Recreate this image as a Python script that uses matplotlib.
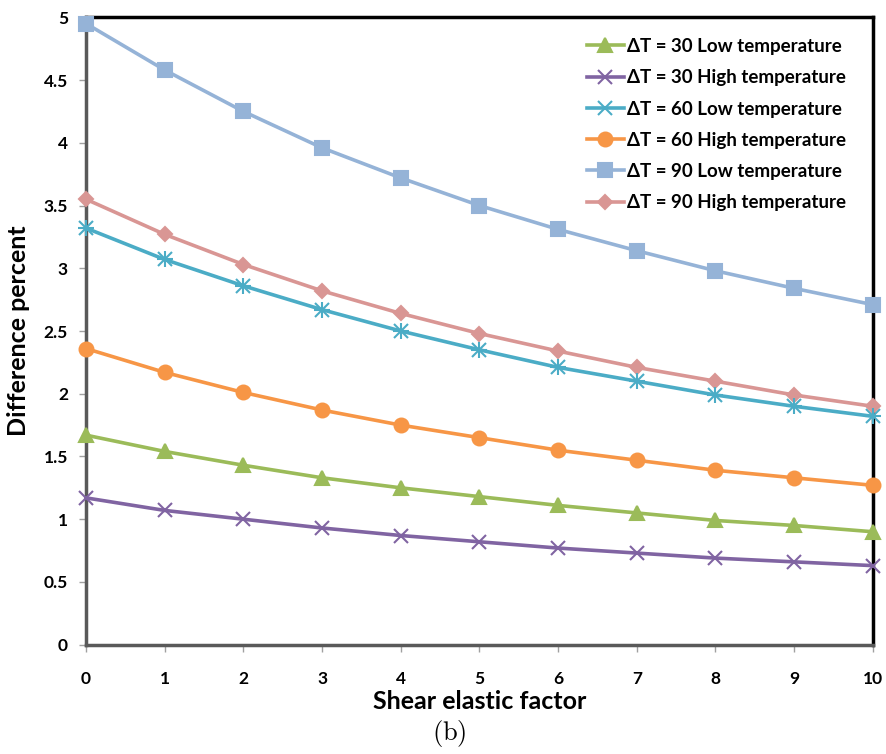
import numpy as np
import matplotlib.pyplot as plt

plt.rcParams["font.family"] = ["Lato", "DejaVu Sans"]
plt.rcParams["font.weight"] = "bold"
plt.rcParams["mathtext.fontset"] = "cm"

# data
shear = [0, 1, 2, 3, 4, 5, 6, 7, 8, 9, 10]
dt30_low = [1.67, 1.54, 1.43, 1.33, 1.25, 1.18, 1.11, 1.05, 0.99, 0.95, 0.90]
dt30_high = [1.17, 1.07, 1.00, 0.93, 0.87, 0.82, 0.77, 0.73, 0.69, 0.66, 0.63]
dt60_low = [3.32, 3.07, 2.86, 2.67, 2.50, 2.35, 2.21, 2.10, 1.99, 1.90, 1.82]
dt60_high = [2.36, 2.17, 2.01, 1.87, 1.75, 1.65, 1.55, 1.47, 1.39, 1.33, 1.27]
dt90_low = [4.95, 4.58, 4.25, 3.96, 3.72, 3.50, 3.31, 3.14, 2.98, 2.84, 2.71]
dt90_high = [3.55, 3.27, 3.03, 2.82, 2.64, 2.48, 2.34, 2.21, 2.10, 1.99, 1.90]

labels = [
    "ΔT = 30 Low temperature",
    "ΔT = 30 High temperature",
    "ΔT = 60 Low temperature",
    "ΔT = 60 High temperature",
    "ΔT = 90 Low temperature",
    "ΔT = 90 High temperature",
]
series = [dt30_low, dt30_high, dt60_low, dt60_high, dt90_low, dt90_high]
colors = ["#9BBB59", "#8064A2", "#4BACC6", "#F79646", "#95B3D7", "#D99694"]
markers = ["^", "x", "x", "o", "s", "D"]
msizes = [10, 10, 10, 10, 10, 7]

fig = plt.figure(figsize=(8.87, 7.54), dpi=100)
ax = fig.add_axes([0.097, 0.145, 0.887, 0.832])

for vals, lab, c, m, ms in zip(series, labels, colors, markers, msizes):
    ax.plot(shear, vals, color=c, lw=2.6, marker=m, ms=ms, mew=1.5,
            label=lab, clip_on=False, zorder=3)
# asterisk look for the teal series
ax.plot(shear, dt60_low, ls="none", marker="+", ms=11, mew=1.5,
        color=colors[2], clip_on=False, zorder=3)

ax.set_xlim(0, 10)
ax.set_ylim(0, 5)
ax.set_xticks(range(0, 11))
ax.set_yticks(np.arange(0, 5.01, 0.5))
ax.set_yticklabels(["0", "0.5", "1", "1.5", "2", "2.5", "3", "3.5", "4", "4.5", "5"])

for s in ["left", "bottom"]:
    ax.spines[s].set_color("#595959")
    ax.spines[s].set_linewidth(2.5)
for s in ["top", "right"]:
    ax.spines[s].set_color("black")
    ax.spines[s].set_linewidth(2.5)

ax.tick_params(axis="both", direction="out", length=5, width=1, color="#a0a0a0",
               labelsize=12.5)
ax.tick_params(axis="x", pad=14)
ax.tick_params(axis="y", pad=8)
for t in ax.get_xticklabels() + ax.get_yticklabels():
    t.set_fontweight("bold")

ax.set_xlabel("Shear elastic factor", fontsize=18, fontweight="bold", labelpad=2)
ax.set_ylabel("Difference percent", fontsize=18, fontweight="bold", labelpad=10)

leg = ax.legend(loc="upper right", bbox_to_anchor=(0.98, 0.985), frameon=False,
                fontsize=13.5, handlelength=2.0, handletextpad=0.15,
                labelspacing=0.76, markerscale=1.0, borderaxespad=0.2)
for t in leg.get_texts():
    t.set_fontweight("bold")

fig.text(0.507, 0.006, r"$\mathrm{(b)}$", ha="center", va="bottom", fontsize=19)

fig.savefig("out.png", dpi=100)
